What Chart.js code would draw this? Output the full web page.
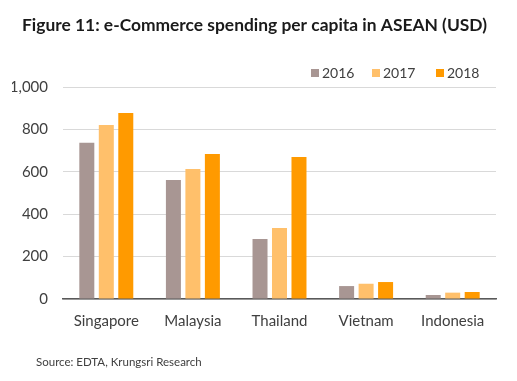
<!DOCTYPE html>
<html>
<head>
<meta charset="utf-8">
<script src="https://cdn.jsdelivr.net/npm/chart.js@4/dist/chart.umd.min.js"></script>
<style>
html,body{margin:0;padding:0;background:#fff;}
#wrap{width:517px;height:381px;}
</style>
</head>
<body>
<div id="wrap"><canvas id="c" width="517" height="381"></canvas></div>
<script>
const categories = ["Singapore", "Malaysia", "Thailand", "Vietnam", "Indonesia"];
const seriesNames = ["2016", "2017", "2018"];
const values2016 = [737, 561, 283, 61, 19];
const values2017 = [821, 613, 335, 72, 30];
const values2018 = [877, 684, 670, 80, 33];
const seriesColors = ["#A89693", "#FFC06B", "#FF9A00"];
const yTicks = [0, 200, 400, 600, 800, 1000];
const titleText = "Figure 11: e-Commerce spending per capita in ASEAN (USD)";
const sourceText = "Source: EDTA, Krungsri Research";

const FONT = "Lato, 'Open Sans', sans-serif";

const overlay = {
  id: 'overlay',
  afterDraw(chart) {
    const ctx = chart.ctx;
    ctx.save();
    ctx.fillStyle = '#1a1a1a';
    ctx.font = "bold 17.4px " + FONT;
    ctx.textBaseline = 'middle';
    ctx.textAlign = 'left';
    ctx.fillText(titleText, 22, 25);
    ctx.font = "11.5px " + FONT;
    ctx.fillStyle = '#404040';
    ctx.fillText(sourceText, 36, 362);
    // legend
    ctx.font = "14px " + FONT;
    const xs = [311, 372, 436];
    chart.data.datasets.forEach((ds, i) => {
      ctx.fillStyle = ds.backgroundColor;
      ctx.fillRect(xs[i], 69, 8, 8);
      ctx.fillStyle = '#404040';
      ctx.fillText(ds.label, xs[i] + 11, 73.5);
    });
    ctx.restore();
  }
};

new Chart(document.getElementById('c'), {
  type: 'bar',
  data: {
    labels: categories,
    datasets: [
      { label: seriesNames[0], data: values2016, backgroundColor: seriesColors[0] },
      { label: seriesNames[1], data: values2017, backgroundColor: seriesColors[1] },
      { label: seriesNames[2], data: values2018, backgroundColor: seriesColors[2] }
    ]
  },
  options: {
    responsive: false,
    animation: false,
    layout: { padding: { top: 87, left: 12, right: 21, bottom: 38 } },
    datasets: { bar: { categoryPercentage: 0.675, barPercentage: 0.77 } },
    plugins: { legend: { display: false }, title: { display: false }, tooltip: { enabled: false } },
    scales: {
      x: {
        grid: { display: false, drawTicks: false },
        border: { display: true, color: '#595959', width: 1.5 },
        ticks: { color: '#404040', font: { family: FONT, size: 15 }, padding: 13 }
      },
      y: {
        min: 0, max: 1000,
        afterBuildTicks: (axis) => { axis.ticks = yTicks.map(v => ({ value: v })); },
        afterFit: (axis) => { axis.width = 51; },
        grid: { color: '#D9D9D9', drawTicks: false },
        border: { display: false },
        ticks: {
          color: '#404040', font: { family: FONT, size: 15 }, padding: 15,
          callback: (v) => v.toLocaleString('en-US')
        }
      }
    }
  },
  plugins: [overlay]
});
</script>
</body>
</html>
